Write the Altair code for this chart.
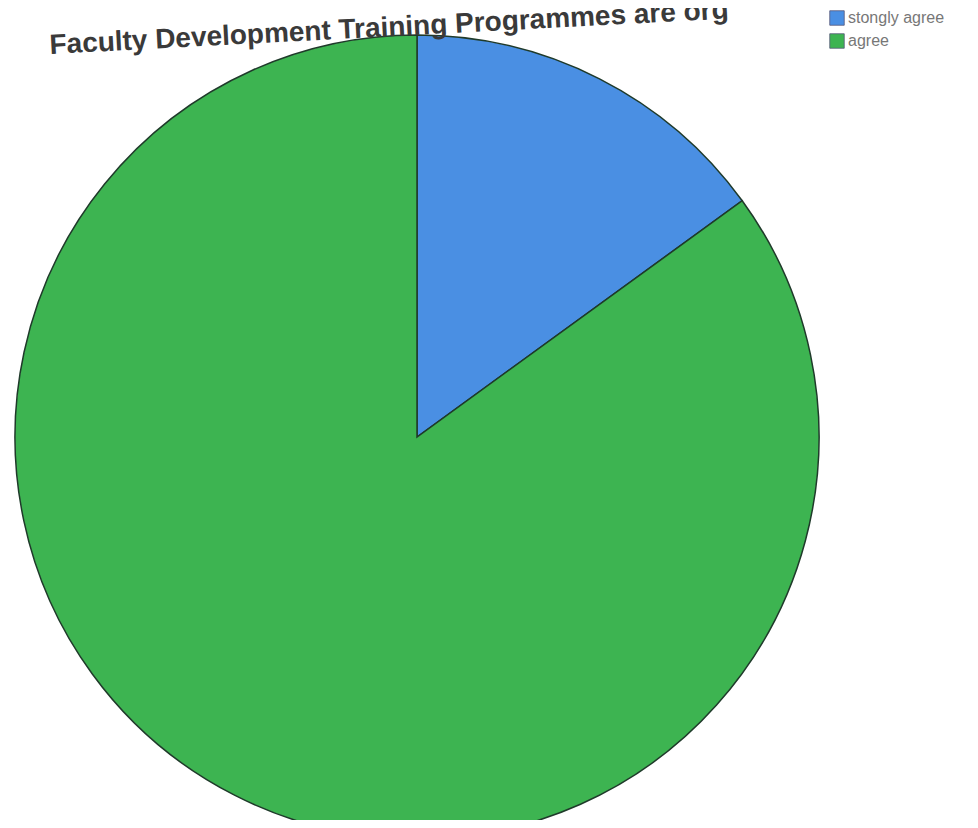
import altair as alt
import pandas as pd

categories = ["stongly agree", "agree"]
values = [15, 85]
colors = ["#4a8fe3", "#3db451"]
title_text = "Faculty Development Training Programmes are org"

df = pd.DataFrame({"response": categories, "value": values, "order": [0, 1]})

pie = alt.Chart(df).mark_arc(
    radius=402, stroke="#1f3a2a", strokeWidth=1.5
).encode(
    theta=alt.Theta("value:Q", stack=True),
    order=alt.Order("order:Q"),
    color=alt.Color(
        "response:N",
        sort=categories,
        scale=alt.Scale(domain=categories, range=colors),
        legend=alt.Legend(
            title=None, orient="none", legendX=821, legendY=2,
            symbolType="square", symbolSize=210, symbolStrokeColor="#557",
            symbolStrokeWidth=0.8, labelFontSize=16, labelColor="#777",
            labelFont="Liberation Sans", rowPadding=5, symbolOpacity=1,
            labelOffset=3,
        ),
    ),
    x=alt.value(409),
    y=alt.value(429),
)

title = alt.Chart(pd.DataFrame({"t": [title_text]})).mark_text(
    fontSize=28, fontWeight="bold", font="Liberation Sans", color="#3a3a3a",
    angle=357, align="left", baseline="alphabetic",
).encode(text="t:N", x=alt.value(42), y=alt.value(46))

chart = alt.layer(pie, title).properties(
    width=962, height=812, padding=0, autosize=alt.AutoSizeParams(type="none")
).configure(background="white").configure_view(stroke=None)

chart.save("out.html", embed_options={"renderer": "svg", "actions": False})
